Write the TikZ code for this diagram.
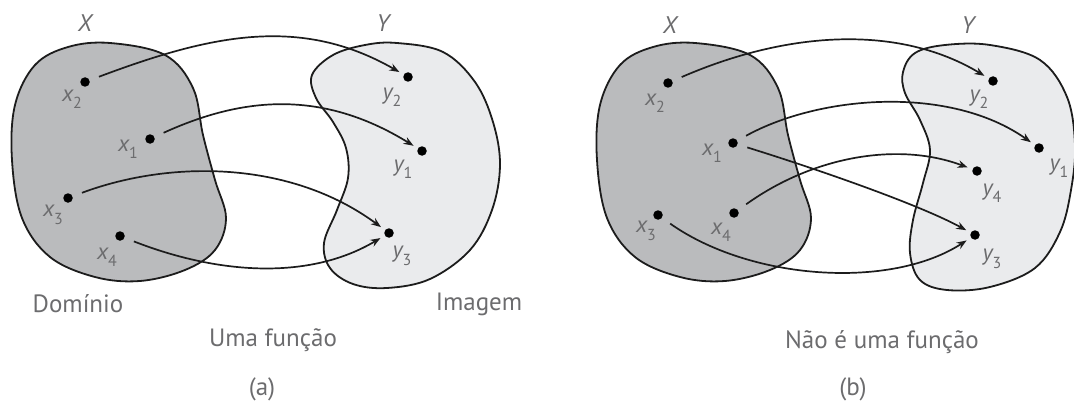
\documentclass[tikz,border=0pt]{standalone}
\usepackage{fontspec}
\setmainfont{PT Sans}
\usetikzlibrary{arrows.meta}
\definecolor{darkfill}{RGB}{186,187,189}
\definecolor{lightfill}{RGB}{234,235,237}
\definecolor{txt}{RGB}{108,108,110}
\definecolor{ink}{RGB}{28,28,28}
\newcommand{\lab}[2]{{\itshape #1}\raisebox{-0.32em}{\fontsize{16}{16}\selectfont #2}}
\begin{document}
\begin{tikzpicture}[x=1pt,y=-1pt,
  blob/.style={draw=ink, line width=1.8pt},
  dot/.style={circle, fill=black, inner sep=0pt, minimum size=9.5pt},
  lbl/.style={text=txt, font=\fontsize{23}{23}\selectfont, inner sep=0pt},
  settitle/.style={text=txt, font=\fontsize{24}{24}\selectfont\itshape, inner sep=0pt},
  captext/.style={text=txt, font=\fontsize{25}{25}\selectfont, inner sep=0pt},
  arr/.style={draw=ink, line width=1.7pt, -{Stealth[length=10pt,width=7.5pt]}, shorten <=10pt, shorten >=5pt},
]
\useasboundingbox (0,0) rectangle (1074,404);

% ---------- panel (a) ----------
\path[blob, fill=darkfill] plot[smooth cycle, tension=0.6] coordinates {
 (110,43) (165,55) (193,88) (203,135) (215,180) (226,218) (215,250) (185,270)
 (140,281) (95,277) (50,257) (22,218) (12,160) (15,105) (35,65) (68,47)};
\path[blob, fill=lightfill] plot[smooth cycle, tension=0.6] coordinates {
 (397,43) (443,52) (475,82) (493,122) (500,165) (492,210) (470,250) (430,279)
 (387,288) (353,284) (330,268) (324,243) (337,210) (348,178) (346,148) (333,122)
 (316,98) (312,75) (333,55) (365,45)};

\node[dot] (ax2) at (85,82) {};
\node[dot] (ax1) at (150,139) {};
\node[dot] (ax3) at (68,198) {};
\node[dot] (ax4) at (120,236) {};
\node[dot] (ay2) at (408,77) {};
\node[dot] (ay1) at (422,151) {};
\node[dot] (ay3) at (389,233) {};

\draw[arr] (ax2) .. controls (210,35) and (300,15) .. (ay2);
\draw[arr] (ax1) .. controls (240,98) and (320,88) .. (ay1);
\draw[arr] (ax3) .. controls (170,160) and (290,160) .. (ay3);
\draw[arr] (ax4) .. controls (220,275) and (310,280) .. (ay3);

\node[settitle] (aX) at (85,23) {X};
\node[settitle] (aY) at (383,23) {Y};
\node[lbl] (lax2) at (72,99) {\lab{x}{2}};
\node[lbl] (lax1) at (128,149) {\lab{x}{1}};
\node[lbl] (lax3) at (53,215) {\lab{x}{3}};
\node[lbl] (lax4) at (107,257) {\lab{x}{4}};
\node[lbl] (lay2) at (392,97) {\lab{y}{2}};
\node[lbl] (lay1) at (403,169) {\lab{y}{1}};
\node[lbl] (lay3) at (402,256) {\lab{y}{3}};

\node[captext] (dom) at (78,304) {Domínio};
\node[captext] (img) at (479,304) {Imagem};
\node[captext] (uma) at (273,340) {Uma função};
\node[captext] (pa) at (262,389) {(a)};

% ---------- panel (b) ----------
\begin{scope}[xshift=585pt]
\path[blob, fill=darkfill] plot[smooth cycle, tension=0.6] coordinates {
 (110,43) (165,55) (193,88) (203,135) (215,180) (226,218) (215,250) (185,270)
 (140,281) (95,277) (50,257) (22,218) (12,160) (15,105) (35,65) (68,47)};
\end{scope}
\path[blob, fill=lightfill] plot[smooth cycle, tension=0.6] coordinates {
 (990,45) (1040,60) (1067,97) (1075,145) (1071,190) (1060,232) (1035,268) (990,287)
 (947,290) (920,280) (910,253) (913,220) (923,183) (930,150) (920,120) (905,93)
 (903,72) (915,53) (945,45)};

\node[dot] (bx2) at (668,83) {};
\node[dot] (bx1) at (733,143) {};
\node[dot] (bx3) at (658,215) {};
\node[dot] (bx4) at (734,213) {};
\node[dot] (by2) at (993,81) {};
\node[dot] (by1) at (1039,148) {};
\node[dot] (by4) at (977,171) {};
\node[dot] (by3) at (975,235) {};

\draw[arr] (bx2) .. controls (790,30) and (900,25) .. (by2);
\draw[arr] (bx1) .. controls (820,95) and (950,85) .. (by1);
\draw[arr] (bx1) .. controls (820,170) and (920,205) .. (by3);
\draw[arr] (bx4) .. controls (815,155) and (900,142) .. (by4);
\draw[arr] (bx3) .. controls (750,280) and (890,290) .. (by3);

\node[settitle] (bX) at (670,25) {X};
\node[settitle] (bY) at (968,25) {Y};
\node[lbl] (lbx2) at (655,103) {\lab{x}{2}};
\node[lbl] (lbx1) at (712,153) {\lab{x}{1}};
\node[lbl] (lbx3) at (646,231) {\lab{x}{3}};
\node[lbl] (lbx4) at (721,232) {\lab{x}{4}};
\node[lbl] (lby2) at (979,99) {\lab{y}{2}};
\node[lbl] (lby1) at (1059,168) {\lab{y}{1}};
\node[lbl] (lby4) at (992,193) {\lab{y}{4}};
\node[lbl] (lby3) at (992,259) {\lab{y}{3}};

\node[captext] (nao) at (882,342) {Não é uma função};
\node[captext] (pb) at (853,389) {(b)};
\end{tikzpicture}
\end{document}
